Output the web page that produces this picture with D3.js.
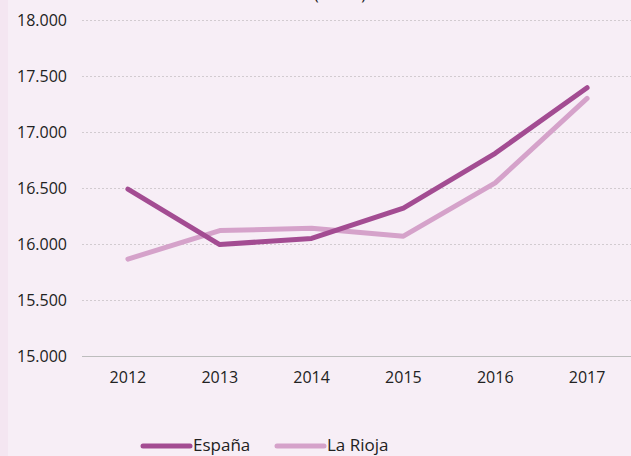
<!DOCTYPE html>
<html>
<head>
<meta charset="utf-8">
<script src="https://cdn.jsdelivr.net/npm/d3@7"></script>
<style>
  body { margin: 0; background: #f7eef6; }
  svg { display: block; font-family: "Open Sans", sans-serif; }
</style>
</head>
<body>
<svg id="chart"></svg>
<script>
let years = ["2012", "2013", "2014", "2015", "2016", "2017"];
let espana = [16490, 15995, 16050, 16320, 16810, 17395];
let rioja = [15865, 16120, 16140, 16070, 16545, 17300];
let yTicks = [15000, 15500, 16000, 16500, 17000, 17500, 18000];
let seriesNames = ["España", "La Rioja"];
let colors = ["#a34c92", "#d5a2ca"];

let w = 631;
let h = 456;

let svg = d3.select("#chart")
    .attr("width", w)
    .attr("height", h);

svg.append("rect").attr("width", w).attr("height", h).attr("fill", "#f7eef6");
svg.append("rect").attr("width", 8).attr("height", h).attr("fill", "#f4e6f1");

// title, mostly cut off at the top (as in the original)
svg.append("text")
    .attr("x", 340)
    .attr("y", 0)
    .attr("text-anchor", "middle")
    .attr("font-size", 16)
    .attr("fill", "#222")
    .text("(euros)");

// x scale
let xScale = d3.scaleBand()
    .domain(years)
    .range([82, 633]);

let yScale = d3.scaleLinear()
    .domain([15000, 18000])
    .range([356, 20]);

// gridlines
svg.append("g")
    .selectAll("line")
    .data(yTicks.slice(1))
    .join("line")
    .attr("x1", 82)
    .attr("x2", w)
    .attr("y1", d => yScale(d) + 0.5)
    .attr("y2", d => yScale(d) + 0.5)
    .attr("stroke", "#d2cbd0")
    .attr("stroke-dasharray", "2,2");

// y axis
let yAxis = d3.axisLeft(yScale)
    .tickValues(yTicks)
    .tickSize(0)
    .tickPadding(15)
    .tickFormat(d => d3.format(",")(d).replace(",", "."));
let yAxisGroup = svg.append("g")
    .attr("transform", "translate(82,0)")
    .call(yAxis);
yAxisGroup.select(".domain").remove();
yAxisGroup.selectAll("text").attr("font-size", 16).attr("fill", "#222").attr("font-family", "Open Sans");

// x axis
let xAxis = d3.axisBottom(xScale).tickSize(0).tickPadding(15);
let xAxisGroup = svg.append("g")
    .attr("transform", "translate(0,356.5)")
    .call(xAxis);
xAxisGroup.select(".domain").attr("stroke", "#bdbdbd").attr("d", "M82,0H" + w);
xAxisGroup.selectAll("text").attr("font-size", 16).attr("fill", "#222").attr("font-family", "Open Sans");

let line = d3.line()
    .x((d, i) => xScale(years[i]) + xScale.bandwidth() / 2)
    .y(d => yScale(d));

// La Rioja under España
[rioja, espana].forEach((s, k) => {
    svg.append("path")
        .datum(s)
        .attr("d", line)
        .attr("fill", "none")
        .attr("stroke", k === 0 ? colors[1] : colors[0])
        .attr("stroke-width", 5)
        .attr("stroke-linejoin", "round")
        .attr("stroke-linecap", "round");
});

// legend
let legendX = [143, 277];
let legend = svg.append("g")
    .selectAll("g")
    .data(seriesNames)
    .join("g")
    .attr("transform", (d, i) => `translate(${legendX[i]},446)`);
legend.append("line")
    .attr("x1", 0)
    .attr("x2", 47)
    .attr("stroke", (d, i) => colors[i])
    .attr("stroke-width", 5)
    .attr("stroke-linecap", "round");
legend.append("text")
    .attr("x", 50)
    .attr("y", 5)
    .attr("font-size", 17)
    .attr("fill", "#222")
    .text(d => d);
</script>
</body>
</html>
